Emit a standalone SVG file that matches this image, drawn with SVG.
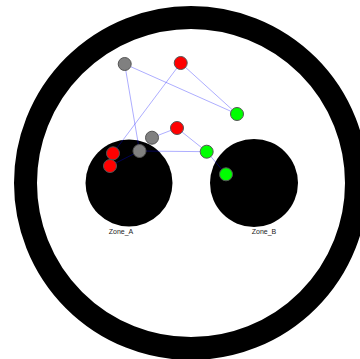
<svg xmlns="http://www.w3.org/2000/svg" width="360" height="359" viewBox="0 0 360 359">
<style>
.zone{fill:#000}
.lbl{font-family:"Liberation Sans",Arial,sans-serif;font-size:7px;fill:#222;text-anchor:middle}
.edge{stroke:#0000ff;stroke-opacity:0.32;stroke-width:1;fill:none}
.n{stroke:#555;stroke-width:1}
.red{fill:#ff0000}
.grey{fill:#808080}
.green{fill:#00ff00}
</style>
<rect width="360" height="359" fill="#fff"/>
<circle cx="191" cy="183" r="165.5" fill="#fff" stroke="#000" stroke-width="23"/>
<g id="zone_a"><circle class="zone" cx="129" cy="183" r="43.5"/><text class="lbl" x="121" y="234">Zone_A</text></g>
<g id="zone_b"><circle class="zone" cx="254" cy="183" r="44"/><text class="lbl" x="264" y="234">Zone_B</text></g>
<g id="edges">
<line class="edge" x1="124.7" y1="64" x2="237" y2="114"/>
<line class="edge" x1="124.7" y1="64" x2="139.5" y2="151"/>
<line class="edge" x1="180.7" y1="63" x2="237" y2="114"/>
<line class="edge" x1="180.7" y1="63" x2="113" y2="153.3"/>
<line class="edge" x1="152" y1="137.7" x2="177" y2="128"/>
<line class="edge" x1="177" y1="128" x2="206.7" y2="151.7"/>
<line class="edge" x1="139.5" y1="151" x2="206.7" y2="151.7"/>
<line class="edge" x1="206.7" y1="151.7" x2="226" y2="174.3"/>
<line class="edge" x1="139.5" y1="151" x2="110" y2="166"/>
</g>
<g id="n1"><circle class="n grey" cx="124.7" cy="64" r="6.5"/></g>
<g id="n2"><circle class="n red" cx="180.7" cy="63" r="6.5"/></g>
<g id="n3"><circle class="n green" cx="237" cy="114" r="6.5"/></g>
<g id="n4"><circle class="n red" cx="177" cy="128" r="6.5"/></g>
<g id="n5"><circle class="n grey" cx="152" cy="137.7" r="6.5"/></g>
<g id="n6"><circle class="n grey" cx="139.5" cy="151" r="6.5"/></g>
<g id="n7"><circle class="n green" cx="206.7" cy="151.7" r="6.5"/></g>
<g id="n8"><circle class="n red" cx="113" cy="153.3" r="6.5"/></g>
<g id="n9"><circle class="n red" cx="110" cy="166" r="6.5"/></g>
<g id="n10"><circle class="n green" cx="226" cy="174.3" r="6.5"/></g>
</svg>
